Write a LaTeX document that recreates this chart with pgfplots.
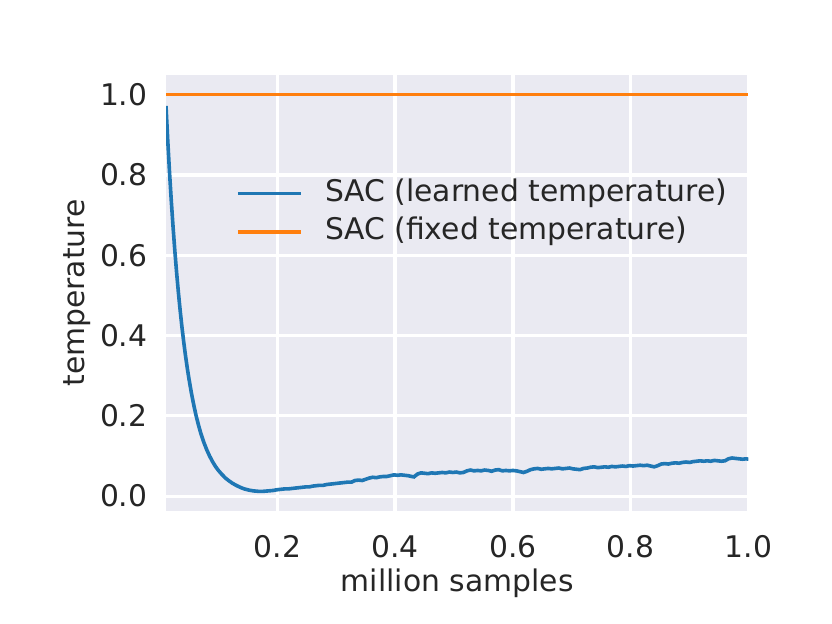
\documentclass[border=0pt]{standalone}
\usepackage{pgfplots}
\pgfplotsset{compat=1.18}
\usepackage{fontspec}
\setmainfont{DejaVu Sans}
\definecolor{bgc}{HTML}{EAEAF2}
\definecolor{txt}{HTML}{262626}
\definecolor{c1}{HTML}{1F77B4}
\definecolor{c2}{HTML}{FF7F0E}
\begin{document}
\begin{tikzpicture}
\path[use as bounding box] (0,0) rectangle (460.8pt,345.6pt);
\begin{axis}[
  at={(91.94pt,62.58pt)}, anchor=south west,
  scale only axis, width=322.6pt, height=241.5pt,
  xmin=0.011, xmax=1.0, ymin=-0.037, ymax=1.049,
  enlargelimits=false,
  axis background/.style={fill=bgc},
  axis line style={draw=none},
  major tick length=0pt,
  grid=major,
  major grid style={white, line width=1.8pt},
  xtick={0.2,0.4,0.6,0.8,1.0},
  ytick={0,0.2,0.4,0.6,0.8,1.0},
  /pgf/number format/assume math mode=true,
  /pgf/number format/.cd, fixed, fixed zerofill, precision=1, /pgfplots/.cd,
  tick label style={font=\fontsize{16.5}{19.8}\selectfont, text=txt},
  yticklabel style={anchor=east, inner sep=0pt, xshift=-10.1pt},
  xticklabel style={anchor=north, inner sep=0pt, yshift=-13.3pt},
  label style={font=\fontsize{16.5}{19.8}\selectfont, text=txt},
  xlabel={million samples},
  xlabel style={at={(axis description cs:0.5,0)}, anchor=base, yshift=-44.7pt},
  legend cell align=left,
  legend image code/.code={\draw[#1] (0pt,0pt) -- (35.1pt,0pt);},
  legend style={draw=none, fill=none, inner sep=0pt, outer sep=0pt,
    at={(axis cs:0.1299,0.7888)}, anchor=north west,
    font=\fontsize{16.5}{19.8}\selectfont, text=txt,
    nodes={inner sep=0pt, text height=12pt, text depth=3.5pt},
    column sep=12.2pt, row sep=5.8pt},
]
\addplot[c1, line width=2pt] coordinates {
(0.011,0.972) (0.014,0.885) (0.017,0.806) (0.020,0.735) (0.023,0.670)
(0.026,0.611) (0.029,0.557) (0.032,0.508) (0.035,0.463) (0.038,0.422)
(0.041,0.385) (0.044,0.351) (0.047,0.320) (0.050,0.292) (0.054,0.258)
(0.058,0.228) (0.062,0.201) (0.066,0.178) (0.070,0.157) (0.075,0.135)
(0.080,0.116) (0.085,0.100) (0.090,0.086) (0.095,0.074) (0.100,0.064)
(0.106,0.054) (0.112,0.045) (0.118,0.038) (0.124,0.032) (0.130,0.027)
(0.137,0.022) (0.144,0.018) (0.152,0.015) (0.160,0.013) (0.168,0.012)
(0.176,0.012) (0.184,0.013) (0.192,0.014) (0.200,0.016)
(0.206,0.017) (0.212,0.018) (0.218,0.018) (0.224,0.019) (0.230,0.020)
(0.236,0.021) (0.242,0.022) (0.248,0.023) (0.254,0.023) (0.260,0.025)
(0.266,0.026) (0.272,0.027) (0.278,0.027) (0.284,0.029) (0.290,0.030)
(0.296,0.031) (0.302,0.032) (0.308,0.033) (0.314,0.034) (0.320,0.035)
(0.326,0.035) (0.332,0.039) (0.338,0.040) (0.344,0.039) (0.350,0.042)
(0.356,0.045) (0.362,0.047) (0.368,0.046) (0.374,0.048) (0.380,0.049)
(0.386,0.049) (0.392,0.051) (0.398,0.053) (0.404,0.052) (0.410,0.053)
(0.416,0.052) (0.422,0.051) (0.428,0.049) (0.432,0.048) (0.438,0.055)
(0.444,0.058) (0.450,0.057) (0.456,0.056) (0.462,0.058) (0.468,0.057)
(0.474,0.058) (0.480,0.059) (0.486,0.058) (0.492,0.060) (0.498,0.059)
(0.504,0.060) (0.510,0.058) (0.516,0.059) (0.522,0.063) (0.528,0.065)
(0.534,0.063) (0.540,0.064) (0.546,0.063) (0.552,0.065) (0.558,0.064)
(0.564,0.062) (0.570,0.065) (0.576,0.066) (0.582,0.063) (0.588,0.064)
(0.594,0.063) (0.600,0.064) (0.606,0.063) (0.612,0.061) (0.618,0.059)
(0.624,0.062) (0.630,0.066) (0.636,0.068) (0.642,0.069) (0.648,0.067)
(0.654,0.068) (0.660,0.069) (0.666,0.068) (0.672,0.069) (0.678,0.070)
(0.684,0.068) (0.690,0.069) (0.696,0.070) (0.702,0.068) (0.708,0.067)
(0.714,0.066) (0.720,0.069) (0.726,0.070) (0.732,0.072) (0.738,0.073)
(0.744,0.071) (0.750,0.072) (0.756,0.073) (0.762,0.072) (0.768,0.074)
(0.774,0.073) (0.780,0.074) (0.786,0.075) (0.792,0.074) (0.798,0.076)
(0.804,0.075) (0.810,0.076) (0.816,0.077) (0.822,0.076) (0.828,0.077)
(0.834,0.075) (0.840,0.073) (0.846,0.076) (0.852,0.080) (0.858,0.081)
(0.864,0.080) (0.870,0.082) (0.876,0.083) (0.882,0.082) (0.888,0.084)
(0.894,0.085) (0.900,0.084) (0.906,0.086) (0.912,0.087) (0.918,0.088)
(0.924,0.087) (0.930,0.088) (0.936,0.087) (0.942,0.089) (0.948,0.088)
(0.954,0.087) (0.960,0.088) (0.966,0.093) (0.972,0.095) (0.978,0.094)
(0.984,0.093) (0.990,0.092) (0.996,0.093) (1.000,0.092)
};
\addlegendentry{SAC (learned temperature)}
\addplot[c2, line width=2pt] coordinates {(0.011,1.0) (1.0,1.0)};
\addlegendentry{SAC (fixed temperature)}
\end{axis}
\node[rotate=90, anchor=base, inner sep=0pt, font=\fontsize{16.5}{19.8}\selectfont, text=txt] at (47pt,183.33pt) {temperature};
\end{tikzpicture}
\end{document}
